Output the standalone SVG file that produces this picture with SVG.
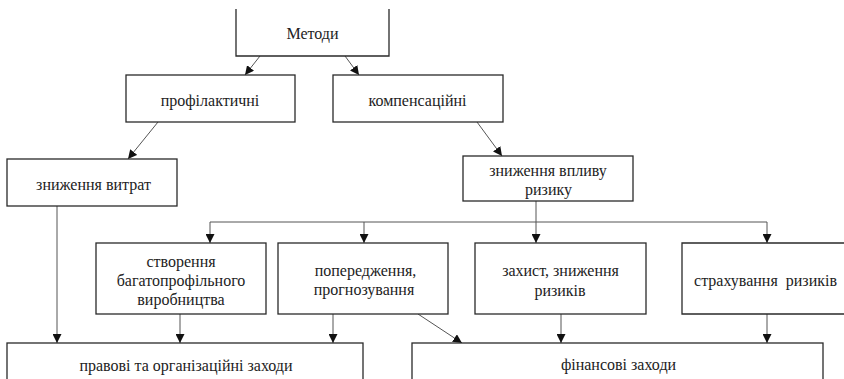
<svg xmlns="http://www.w3.org/2000/svg" width="844" height="379" viewBox="0 0 844 379">
<style>
.box{fill:#fff;stroke:#2a2a2a;stroke-width:1.3}
.t{font-family:'Liberation Serif','Times New Roman','DejaVu Serif',serif;font-size:16px;fill:#222;text-anchor:middle}
.c{fill:none;stroke:#555;stroke-width:1}
</style>
<defs>
<marker id="ah" viewBox="0 0 10 10" refX="10" refY="5" markerWidth="9" markerHeight="9" markerUnits="userSpaceOnUse" orient="auto">
<path d="M0,0 L10,5 L0,10 z" fill="#111"/>
</marker>
</defs>
<rect width="844" height="379" fill="#fff"/>
<g id="connectors">
<path class="c" d="M260,56 L245,75" marker-end="url(#ah)"/>
<path class="c" d="M345,56 L359,75" marker-end="url(#ah)"/>
<path class="c" d="M158,122 L128,159" marker-end="url(#ah)"/>
<path class="c" d="M477,122 L502,156" marker-end="url(#ah)"/>
<path class="c" d="M536,201 V243" marker-end="url(#ah)"/>
<path class="c" d="M210,222 H767 V243" marker-end="url(#ah)"/>
<path class="c" d="M210,222 V243" marker-end="url(#ah)"/>
<path class="c" d="M364,222 V243" marker-end="url(#ah)"/>
<path class="c" d="M57,206 V343" marker-end="url(#ah)"/>
<path class="c" d="M180,314 V343" marker-end="url(#ah)"/>
<path class="c" d="M333,314 V343" marker-end="url(#ah)"/>
<path class="c" d="M418,314 L462,343" marker-end="url(#ah)"/>
<path class="c" d="M561,314 V343" marker-end="url(#ah)"/>
<path class="c" d="M767,314 V343" marker-end="url(#ah)"/>
</g>
<g id="n-metody">
<path class="box" d="M236,9 V56 H389 V9"/>
<text class="t" x="312.5" y="39">Методи</text>
</g>
<g id="n-profilaktychni">
<rect class="box" x="126" y="75" width="169" height="47"/>
<text class="t" x="210" y="106">профілактичні</text>
</g>
<g id="n-kompensatsiini">
<rect class="box" x="333" y="75" width="170" height="47"/>
<text class="t" x="417.5" y="106">компенсаційні</text>
</g>
<g id="n-znyzhennia-vytrat">
<rect class="box" x="7" y="159" width="170" height="47"/>
<text class="t" x="93.5" y="190">зниження витрат</text>
</g>
<g id="n-znyzhennia-vplyvu">
<rect class="box" x="463" y="156" width="170" height="45"/>
<text class="t" x="548" y="176">зниження впливу</text>
<text class="t" x="548.5" y="195">ризику</text>
</g>
<g id="n-stvorennia">
<rect class="box" x="96" y="243" width="170" height="71"/>
<text class="t" x="181" y="267">створення</text>
<text class="t" x="181" y="286">багатопрофільного</text>
<text class="t" x="181" y="305">виробництва</text>
</g>
<g id="n-poperedzhennia">
<rect class="box" x="278" y="243" width="170" height="71"/>
<text class="t" x="365.5" y="276">попередження,</text>
<text class="t" x="364" y="295">прогнозування</text>
</g>
<g id="n-zakhyst">
<rect class="box" x="475" y="243" width="171" height="71"/>
<text class="t" x="560.5" y="276">захист, зниження</text>
<text class="t" x="560" y="296">ризиків</text>
</g>
<g id="n-strakhuvannia">
<path class="box" d="M845,243 H682 V314 H845"/>
<text class="t" x="765.5" y="286" xml:space="preserve">страхування  ризиків</text>
</g>
<g id="n-pravovi">
<rect class="box" x="7" y="343" width="356" height="45"/>
<text class="t" x="186" y="371">правові та організаційні заходи</text>
</g>
<g id="n-finansovi">
<rect class="box" x="412" y="343" width="411" height="45"/>
<text class="t" x="618.5" y="370">фінансові заходи</text>
</g>
</svg>
